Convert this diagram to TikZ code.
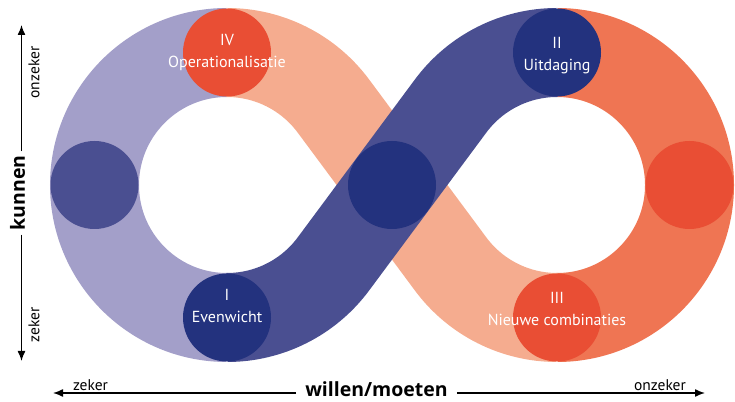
\documentclass[tikz,border=0pt]{standalone}
\usepackage{fontspec}
\setmainfont{PT Sans}
\newfontfamily\boldlbl{Open Sans}
\usetikzlibrary{arrows.meta}
\definecolor{lpurple}{HTML}{A39FC9}
\definecolor{dpurple}{HTML}{4A4F91}
\definecolor{navy}{HTML}{23327E}
\definecolor{salmon}{HTML}{F5AC8F}
\definecolor{orangeband}{HTML}{EF7553}
\definecolor{redc}{HTML}{E94E34}
\begin{document}
\begin{tikzpicture}[x=1pt,y=1pt,
  band/.style={line width=89pt},
  dot/.style={circle, minimum size=88pt, inner sep=0pt, draw=none},
  lbl/.style={text=white, font=\fontsize{16}{21.5}\selectfont, align=center, inner sep=0pt},
  axis/.style={line width=1.4pt, -{Latex[length=10pt,width=8pt]}},
  small/.style={font=\fontsize{15.5}{16}\selectfont, inner sep=0pt},
  big/.style={font=\boldlbl\bfseries\fontsize{19.5}{20}\selectfont},
]
\useasboundingbox (0,0) rectangle (735,401);
\coordinate (L) at (227,216);
\coordinate (R) at (557,216);
% bands
\draw[band, lpurple] ([shift={(90:132.5)}]L) arc[start angle=90, end angle=270, radius=132.5];
\draw[band, orangeband] ([shift={(90:132.5)}]R) arc[start angle=90, end angle=-90, radius=132.5];
\draw[band, salmon] ([shift={(90:132.5)}]L) arc[start angle=90, end angle=36.6, radius=132.5]
   -- ([shift={(216.6:132.5)}]R) arc[start angle=216.6, end angle=270, radius=132.5];
\draw[band, dpurple] ([shift={(270:132.5)}]L) arc[start angle=270, end angle=323.4, radius=132.5]
   -- ([shift={(143.4:132.5)}]R) arc[start angle=143.4, end angle=90, radius=132.5];
% circles
\node[dot, fill=redc] (c4) at (227,348.5) {};
\node[dot, fill=navy] (c2) at (557,348.5) {};
\node[dot, fill=navy] (c1) at (227,83.5) {};
\node[dot, fill=redc] (c3) at (557,83.5) {};
\node[dot, fill=dpurple] (cl) at (94.5,216) {};
\node[dot, fill=navy] (cm) at (392,216) {};
\node[dot, fill=redc] (cr) at (689.5,216) {};
% labels
\node[lbl] (t4) at (227,348.7) {IV\\Operationalisatie};
\node[lbl] (t2) at (557,345.5) {II\\Uitdaging};
\node[lbl] (t1) at (227,95.2) {I\\Evenwicht};
\node[lbl] (t3) at (557,92) {III\\Nieuwe combinaties};
% vertical axis
\coordinate (vtop) at (21.5,376);
\coordinate (vbot) at (21.5,40);
\node[big, rotate=90, inner sep=4pt] (kun) at (17.5,208) {kunnen};
\draw[axis] (kun.east -| vtop) -- (vtop);
\draw[axis] (kun.west -| vbot) -- (vbot);
\node[small, rotate=90] (vonz) at (34,328.5) {onzeker};
\node[small, rotate=90] (vzek) at (34,76) {zeker};
% horizontal axis
\coordinate (hl) at (53,8);
\coordinate (hr) at (705,8);
\node[big, anchor=base, inner xsep=9pt, inner ysep=0pt] (wm) at (376.5,5) {willen/moeten};
\draw[axis] (wm.west |- hl) -- (hl);
\draw[axis] (wm.east |- hr) -- (hr);
\node[small, anchor=base] (hzek) at (90.5,11) {zeker};
\node[small, anchor=base] (honz) at (660,11) {onzeker};
\end{tikzpicture}
\end{document}
